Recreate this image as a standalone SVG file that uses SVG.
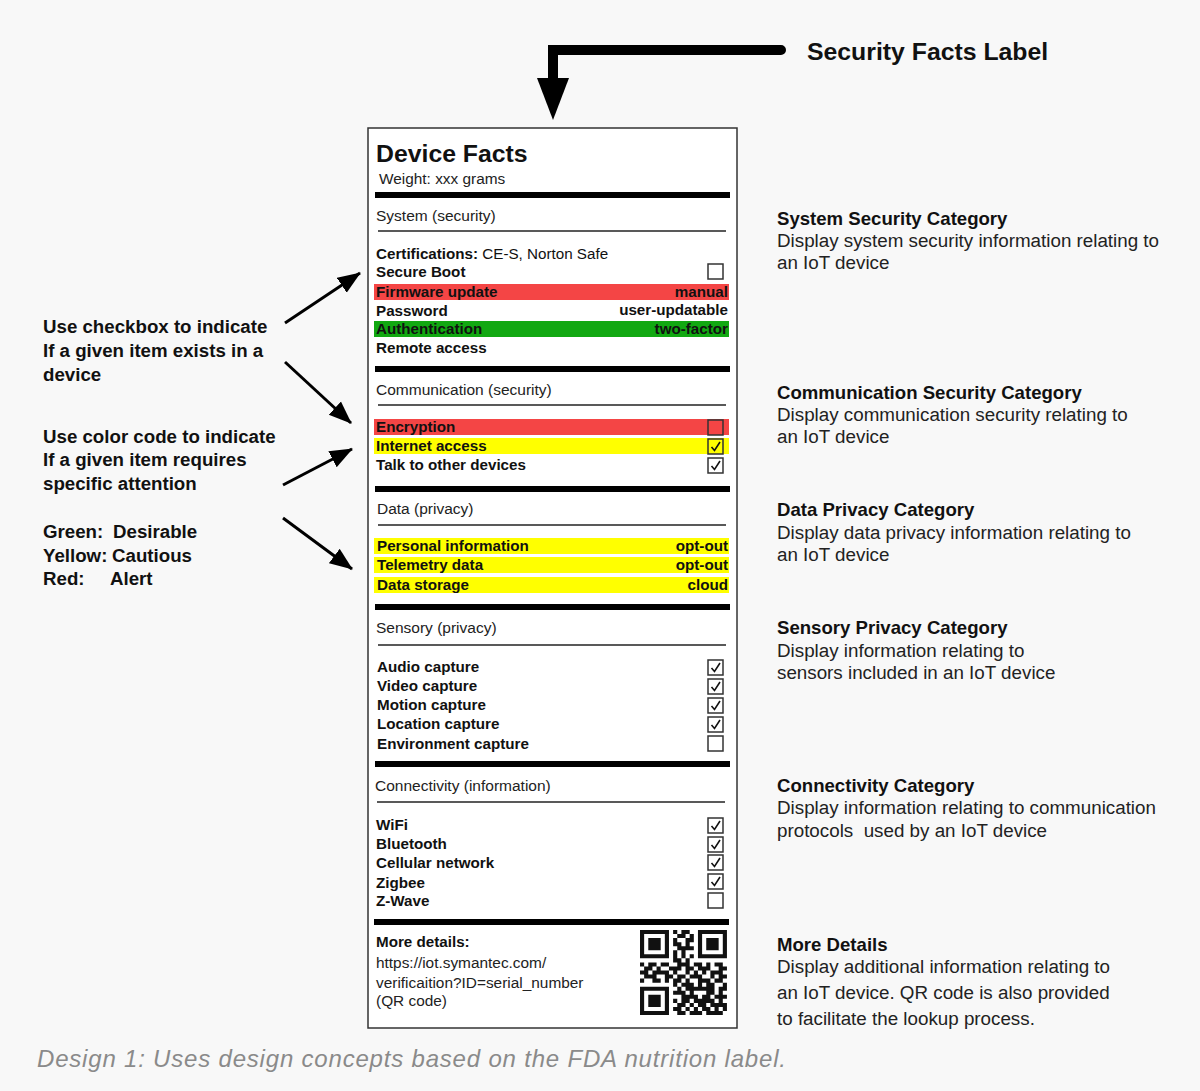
<svg xmlns="http://www.w3.org/2000/svg" width="1200" height="1091" viewBox="0 0 1200 1091">
<style>
text{font-family:"Liberation Sans",Arial,sans-serif;fill:#111}
.b{font-weight:bold}
.row{font-size:15.2px;font-weight:bold}
.sec{font-size:15.5px;fill:#222}
.sm{font-size:15.4px;fill:#222}
.note{font-size:18.7px;font-weight:bold}
.hd{font-size:18.6px;font-weight:bold}
.ds{font-size:18.8px;fill:#222}
.bar{fill:#000}
.thin{stroke:#222;stroke-width:1.5}
.cb{fill:none;stroke:#333;stroke-width:1.5}
.ck{fill:none;stroke:#111;stroke-width:1.6}
.arr{stroke:#000;stroke-width:3;fill:none;marker-end:url(#ah)}
</style>
<defs>
<marker id="ah" markerUnits="userSpaceOnUse" markerWidth="24" markerHeight="20" refX="22" refY="10" orient="auto">
<path d="M0,1 L23,10 L0,19 z" fill="#000"/>
</marker>
<g id="box"><rect x="0" y="0" width="15" height="15" class="cb"/></g>
<g id="chk"><rect x="0" y="0" width="15" height="15" class="cb"/><path d="M3.5,8 L6.5,11.5 L12,3" class="ck"/></g>
</defs>
<rect width="1200" height="1091" fill="#f8f8f8"/>

<g id="title-arrow">
<polyline points="781,50 553,50 553,84" fill="none" stroke="#000" stroke-width="10" stroke-linecap="round" stroke-linejoin="miter"/>
<polygon points="537,78 569,78 553,120" fill="#000"/>
<text x="807" y="60" class="b" style="font-size:24.8px">Security Facts Label</text>
</g>

<g id="label">
<rect x="368" y="128" width="369" height="900" fill="#fff" stroke="#333" stroke-width="1.5"/>
<text x="376" y="162" class="b" style="font-size:24.8px">Device Facts</text>
<text x="379" y="184" style="font-size:15.4px;fill:#222">Weight: xxx grams</text>
<rect x="375" y="192" width="355" height="6" class="bar"/>

<g id="system">
<text x="376" y="221" class="sec">System (security)</text>
<line x1="378" y1="231" x2="726" y2="231" class="thin"/>
<text x="376" y="259" class="row">Certifications: <tspan style="font-weight:normal">CE-S, Norton Safe</tspan></text>
<text x="376" y="277" class="row">Secure Boot</text>
<use href="#box" x="708" y="264"/>
<rect x="374" y="284" width="355" height="16" fill="#f44545"/>
<text x="376" y="297" class="row">Firmware update</text>
<text x="728" y="297" class="row" text-anchor="end">manual</text>
<text x="376" y="316" class="row">Password</text>
<text x="728" y="315" class="row" text-anchor="end">user-updatable</text>
<rect x="374" y="321" width="355" height="16" fill="#12a812"/>
<text x="376" y="334" class="row">Authentication</text>
<text x="728" y="334" class="row" text-anchor="end">two-factor</text>
<text x="376" y="353" class="row">Remote access</text>
</g>
<rect x="375" y="366" width="355" height="6" class="bar"/>

<g id="communication">
<text x="376" y="395" class="sec">Communication (security)</text>
<line x1="378" y1="405" x2="726" y2="405" class="thin"/>
<rect x="374" y="419" width="355" height="16" fill="#f44545"/>
<text x="376" y="432" class="row">Encryption</text>
<use href="#box" x="708" y="420"/>
<rect x="374" y="438" width="355" height="16" fill="#ffff00"/>
<text x="376" y="451" class="row">Internet access</text>
<use href="#chk" x="708" y="439"/>
<text x="376" y="470" class="row">Talk to other devices</text>
<use href="#chk" x="708" y="458"/>
</g>
<rect x="375" y="486" width="355" height="6" class="bar"/>

<g id="data">
<text x="377" y="514" class="sec">Data (privacy)</text>
<line x1="378" y1="525" x2="726" y2="525" class="thin"/>
<rect x="374" y="538" width="355" height="16" fill="#ffff00"/>
<text x="377" y="551" class="row">Personal information</text>
<text x="728" y="551" class="row" text-anchor="end">opt-out</text>
<rect x="374" y="557" width="355" height="16" fill="#ffff00"/>
<text x="377" y="570" class="row">Telemetry data</text>
<text x="728" y="570" class="row" text-anchor="end">opt-out</text>
<rect x="374" y="577" width="355" height="16" fill="#ffff00"/>
<text x="377" y="590" class="row">Data storage</text>
<text x="728" y="590" class="row" text-anchor="end">cloud</text>
</g>
<rect x="375" y="604" width="355" height="6" class="bar"/>

<g id="sensory">
<text x="376" y="633" class="sec">Sensory (privacy)</text>
<line x1="378" y1="645" x2="726" y2="645" class="thin"/>
<text x="377" y="672" class="row">Audio capture</text>
<use href="#chk" x="708" y="660"/>
<text x="377" y="691" class="row">Video capture</text>
<use href="#chk" x="708" y="679"/>
<text x="377" y="710" class="row">Motion capture</text>
<use href="#chk" x="708" y="698"/>
<text x="377" y="729" class="row">Location capture</text>
<use href="#chk" x="708" y="717"/>
<text x="377" y="749" class="row">Environment capture</text>
<use href="#box" x="708" y="736"/>
</g>
<rect x="375" y="761" width="355" height="6" class="bar"/>

<g id="connectivity">
<text x="375" y="791" class="sec">Connectivity (information)</text>
<line x1="377" y1="802" x2="725" y2="802" class="thin"/>
<text x="376" y="830" class="row">WiFi</text>
<use href="#chk" x="708" y="818"/>
<text x="376" y="849" class="row">Bluetooth</text>
<use href="#chk" x="708" y="837"/>
<text x="376" y="868" class="row">Cellular network</text>
<use href="#chk" x="708" y="855"/>
<text x="376" y="888" class="row">Zigbee</text>
<use href="#chk" x="708" y="874"/>
<text x="376" y="906" class="row">Z-Wave</text>
<use href="#box" x="708" y="893"/>
</g>
<rect x="374" y="919" width="355" height="6" class="bar"/>

<g id="details">
<text x="376" y="947" class="row">More details:</text>
<text x="376" y="968" class="sm">https://iot.symantec.com/</text>
<text x="376" y="988" class="sm">verificaition?ID=serial_number</text>
<text x="376" y="1006" class="sm">(QR code)</text>
<g id="qr" transform="translate(640,930) scale(4.14,4.05)" fill="#111">
<path fill-rule="evenodd" d="M0,0h7v7h-7z M1,1v5h5v-5z M2,2h3v3h-3z M14,0h7v7h-7z M15,1v5h5v-5z M16,2h3v3h-3z M0,14h7v7h-7z M1,15v5h5v-5z M2,16h3v3h-3z"/>
<path d="M8,0h1v1h-1z M10,0h2v1h-2z M9,1h2v1h-2z M12,1h1v1h-1z M8,2h1v1h-1z M11,2h2v1h-2z M8,3h2v1h-2z M11,3h1v1h-1z M9,4h4v1h-4z M8,5h1v1h-1z M10,5h1v1h-1z M8,6h1v1h-1z M10,6h1v1h-1z M12,6h1v1h-1z M8,7h2v1h-2z M11,7h1v1h-1z
M0,8h1v1h-1z M2,8h2v1h-2z M5,8h2v1h-2z M9,8h3v1h-3z M13,8h2v1h-2z M16,8h1v1h-1z M18,8h2v1h-2z
M1,9h2v1h-2z M4,9h1v1h-1z M7,9h3v1h-3z M11,9h2v1h-2z M14,9h3v1h-3z M19,9h2v1h-2z
M0,10h2v1h-2z M3,10h4v1h-4z M8,10h1v1h-1z M11,10h1v1h-1z M13,10h1v1h-1z M15,10h1v1h-1z M17,10h3v1h-3z
M1,11h3v1h-3z M6,11h2v1h-2z M9,11h2v1h-2z M12,11h3v1h-3z M17,11h1v1h-1z M19,11h2v1h-2z
M0,12h1v1h-1z M3,12h2v1h-2z M6,12h1v1h-1z M8,12h2v1h-2z M11,12h1v1h-1z M14,12h3v1h-3z M18,12h2v1h-2z
M8,13h1v1h-1z M10,13h3v1h-3z M14,13h1v1h-1z M16,13h2v1h-2z M20,13h1v1h-1z
M9,14h1v1h-1z M11,14h7v1h-7z M19,14h2v1h-2z
M8,15h3v1h-3z M12,15h1v1h-1z M16,15h2v1h-2z M19,15h1v1h-1z
M10,16h4v1h-4z M15,16h2v1h-2z M18,16h3v1h-3z
M8,17h1v1h-1z M10,17h2v1h-2z M13,17h5v1h-5z M19,17h1v1h-1z
M9,18h2v1h-2z M12,18h1v1h-1z M14,18h2v1h-2z M17,18h4v1h-4z
M8,19h2v1h-2z M11,19h1v1h-1z M13,19h1v1h-1z M15,19h2v1h-2z M18,19h1v1h-1z M20,19h1v1h-1z
M9,20h2v1h-2z M12,20h3v1h-3z M16,20h4v1h-4z"/>
</g>
</g>
</g>

<g id="note-checkbox">
<text x="43" y="333" class="note">Use checkbox to indicate</text>
<text x="43" y="357" class="note">If a given item exists in a</text>
<text x="43" y="381" class="note">device</text>
</g>
<g id="note-color">
<text x="43" y="443" class="note">Use color code to indicate</text>
<text x="43" y="466" class="note">If a given item requires</text>
<text x="43" y="490" class="note">specific attention</text>
</g>
<g id="note-legend">
<text x="43" y="538" class="note">Green:</text>
<text x="113" y="538" class="note">Desirable</text>
<text x="43" y="562" class="note">Yellow:</text>
<text x="112" y="562" class="note">Cautious</text>
<text x="43" y="585" class="note">Red:</text>
<text x="110" y="585" class="note">Alert</text>
</g>

<g id="connectors">
<line x1="285" y1="323" x2="360" y2="273" class="arr"/>
<line x1="285" y1="362" x2="351" y2="423" class="arr"/>
<line x1="283" y1="485" x2="352" y2="449" class="arr"/>
<line x1="283" y1="518" x2="352" y2="569" class="arr"/>
</g>

<g id="desc-system">
<text x="777" y="225" class="hd">System Security Category</text>
<text x="777" y="247" class="ds">Display system security information relating to</text>
<text x="777" y="269" class="ds">an IoT device</text>
</g>
<g id="desc-communication">
<text x="777" y="399" class="hd">Communication Security Category</text>
<text x="777" y="421" class="ds">Display communication security relating to</text>
<text x="777" y="443" class="ds">an IoT device</text>
</g>
<g id="desc-data">
<text x="777" y="516" class="hd">Data Privacy Category</text>
<text x="777" y="539" class="ds">Display data privacy information relating to</text>
<text x="777" y="561" class="ds">an IoT device</text>
</g>
<g id="desc-sensory">
<text x="777" y="634" class="hd">Sensory Privacy Category</text>
<text x="777" y="657" class="ds">Display information relating to</text>
<text x="777" y="679" class="ds">sensors included in an IoT device</text>
</g>
<g id="desc-connectivity">
<text x="777" y="792" class="hd">Connectivity Category</text>
<text x="777" y="814" class="ds">Display information relating to communication</text>
<text x="777" y="837" class="ds" xml:space="preserve">protocols  used by an IoT device</text>
</g>
<g id="desc-details">
<text x="777" y="951" class="hd">More Details</text>
<text x="777" y="973" class="ds">Display additional information relating to</text>
<text x="777" y="999" class="ds">an IoT device. QR code is also provided</text>
<text x="777" y="1025" class="ds">to facilitate the lookup process.</text>
</g>

<text x="37" y="1067" textLength="749" lengthAdjust="spacing" style="font-size:24px;font-style:italic;fill:#8a8a8a">Design 1: Uses design concepts based on the FDA nutrition label.</text>
</svg>
